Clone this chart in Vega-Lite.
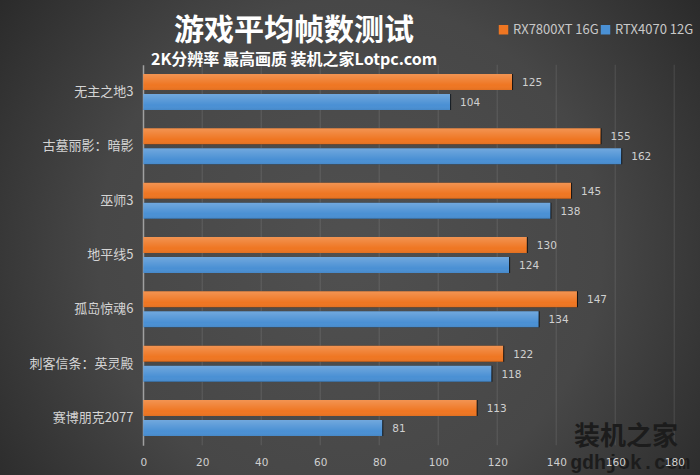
{
  "$schema": "https://vega.github.io/schema/vega-lite/v6.json",
  "width": 700,
  "height": 475,
  "padding": 0,
  "autosize": "none",
  "view": {
    "stroke": null,
    "fill": {
      "gradient": "radial",
      "x1": 0.5, "y1": 0.52, "r1": 0,
      "x2": 0.5, "y2": 0.52, "r2": 0.72,
      "stops": [
        {"offset": 0, "color": "#505050"},
        {"offset": 0.5, "color": "#474747"},
        {"offset": 1, "color": "#1f1f1f"}
      ]
    }
  },
  "title": {
    "text": "游戏平均帧数测试",
    "subtitle": "2K分辨率 最高画质 装机之家Lotpc.com",
    "anchor": "middle",
    "frame": "group",
    "orient": "top",
    "offset": -68,
    "dx": -56,
    "font": "Noto Sans CJK SC",
    "fontSize": 30,
    "fontWeight": "bold",
    "color": "#ffffff",
    "subtitleFont": "Noto Sans CJK SC",
    "subtitleFontSize": 16,
    "subtitleFontWeight": "bold",
    "subtitleColor": "#ffffff",
    "subtitlePadding": 6
  },
  "datasets": {
    "fps": [
      {"game": "无主之地3", "card": "RX7800XT 16G", "fps": 125},
      {"game": "无主之地3", "card": "RTX4070 12G", "fps": 104},
      {"game": "古墓丽影：暗影", "card": "RX7800XT 16G", "fps": 155},
      {"game": "古墓丽影：暗影", "card": "RTX4070 12G", "fps": 162},
      {"game": "巫师3", "card": "RX7800XT 16G", "fps": 145},
      {"game": "巫师3", "card": "RTX4070 12G", "fps": 138},
      {"game": "地平线5", "card": "RX7800XT 16G", "fps": 130},
      {"game": "地平线5", "card": "RTX4070 12G", "fps": 124},
      {"game": "孤岛惊魂6", "card": "RX7800XT 16G", "fps": 147},
      {"game": "孤岛惊魂6", "card": "RTX4070 12G", "fps": 134},
      {"game": "刺客信条：英灵殿", "card": "RX7800XT 16G", "fps": 122},
      {"game": "刺客信条：英灵殿", "card": "RTX4070 12G", "fps": 118},
      {"game": "赛博朋克2077", "card": "RX7800XT 16G", "fps": 113},
      {"game": "赛博朋克2077", "card": "RTX4070 12G", "fps": 81}
    ],
    "ticks": [
      {"tick": 20}, {"tick": 40}, {"tick": 60}, {"tick": 80}, {"tick": 100},
      {"tick": 120}, {"tick": 140}, {"tick": 160}, {"tick": 180}
    ]
  },
  "resolve": {"scale": {"y": "independent"}},
  "layer": [
    {
      "data": {"name": "ticks"},
      "mark": {"type": "rule", "color": "rgba(255,255,255,0.08)", "strokeWidth": 1.5},
      "encoding": {
        "x": {
          "field": "tick",
          "type": "quantitative",
          "title": null,
          "scale": {"domain": [0, 180], "range": [143.3, 674.3], "nice": false},
          "axis": {
            "values": [0, 20, 40, 60, 80, 100, 120, 140, 160, 180],
            "grid": false,
            "domain": false,
            "ticks": false,
            "offset": -18,
            "labelPadding": 0,
            "labelFlush": false,
            "labelFont": "DejaVu Sans",
            "labelFontSize": 10.5,
            "labelColor": "#d0d0d0",
            "labelOverlap": false,
            "zindex": 1
          }
        },
        "y": {"datum": 0, "type": "quantitative", "scale": {"domain": [0, 1], "range": [64.8, 445.2], "nice": false, "zero": false}, "axis": null},
        "y2": {"datum": 1}
      }
    },
    {
      "data": {"name": "fps"},
      "encoding": {
        "y": {
          "field": "game",
          "type": "nominal",
          "sort": null,
          "title": null,
          "scale": {"range": [64.8, 445.2], "paddingInner": 0, "paddingOuter": 0},
          "axis": {
            "orient": "left",
            "offset": -143,
            "ticks": false,
            "grid": false,
            "domainColor": "#a0a0a0",
            "domainWidth": 1.5,
            "labelPadding": 10,
            "labelFont": "Noto Sans CJK SC",
            "labelFontSize": 13,
            "labelColor": "#d4d4d4",
            "labelLimit": 140
          }
        },
        "yOffset": {
          "field": "card",
          "type": "nominal",
          "sort": null,
          "scale": {"paddingInner": 0.2, "paddingOuter": 0.458}
        }
      },
      "layer": [
        {
          "mark": {"type": "bar", "color": "#000000", "opacity": 0.75, "yOffset": 2, "xOffset": 1},
          "encoding": {"x": {"field": "fps", "type": "quantitative"}}
        },
        {
          "mark": {"type": "bar"},
          "encoding": {
            "x": {"field": "fps", "type": "quantitative"},
            "color": {
              "field": "card",
              "type": "nominal",
              "sort": null,
              "title": null,
              "scale": {"domain": ["RX7800XT 16G", "RTX4070 12G"], "range": ["#ef7622", "#4a90d4"]},
              "legend": {
                "orient": "none",
                "legendX": 497,
                "legendY": 23,
                "direction": "horizontal",
                "columns": 2,
                "symbolType": "square",
                "symbolSize": 90,
                "symbolOpacity": 1,
                "labelFont": "Noto Sans CJK SC",
                "labelFontSize": 13,
                "labelColor": "#c8c8c8",
                "labelOffset": 3,
                "columnPadding": 0
              }
            }
          }
        },
        {
          "mark": {
            "type": "bar",
            "color": {
              "gradient": "linear",
              "x1": 0, "y1": 0, "x2": 0, "y2": 1,
              "stops": [
                {"offset": 0, "color": "rgba(255,255,255,0.22)"},
                {"offset": 0.7, "color": "rgba(255,255,255,0)"},
                {"offset": 1, "color": "rgba(0,0,0,0.06)"}
              ]
            }
          },
          "encoding": {"x": {"field": "fps", "type": "quantitative"}}
        },
        {
          "mark": {"type": "text", "align": "left", "dx": 10, "dy": 1, "font": "DejaVu Sans", "fontSize": 10.5, "color": "#d0d0d0"},
          "encoding": {
            "x": {"field": "fps", "type": "quantitative"},
            "text": {"field": "fps", "type": "quantitative"}
          }
        }
      ]
    },
    {
      "data": {"values": [{"label": "装机之家"}]},
      "mark": {"type": "text", "baseline": "middle", "font": "Noto Sans CJK SC", "fontSize": 26, "fontWeight": "bold", "color": "#1c1c1c"},
      "encoding": {
        "x": {"datum": 163.6, "type": "quantitative"},
        "y": {"datum": 0.978, "type": "quantitative", "scale": {"domain": [0, 1], "range": [64.8, 445.2], "nice": false, "zero": false}, "axis": null},
        "text": {"field": "label"}
      }
    },
    {
      "data": {"values": [{"label": "gdhjok.com"}]},
      "mark": {"type": "text", "baseline": "middle", "font": "Liberation Mono", "fontSize": 20, "fontWeight": "bold", "color": "#1c1c1c"},
      "encoding": {
        "x": {"datum": 165, "type": "quantitative"},
        "y": {"datum": 1.047, "type": "quantitative", "scale": {"domain": [0, 1], "range": [64.8, 445.2], "nice": false, "zero": false}, "axis": null},
        "text": {"field": "label"}
      }
    }
  ]
}
